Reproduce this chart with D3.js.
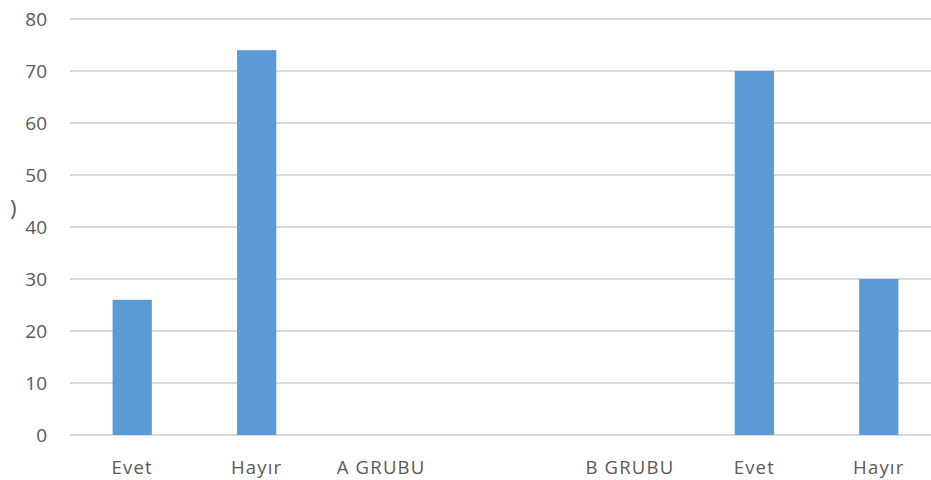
<!DOCTYPE html>
<html>
<head>
<meta charset="utf-8">
<script src="https://cdn.jsdelivr.net/npm/d3@7"></script>
<style>
  html, body { margin: 0; padding: 0; background: #fff; }
  svg { display: block; }
  text { font-family: "Open Sans", "DejaVu Sans", sans-serif; fill: #595959; }
</style>
</head>
<body>
<svg id="chart" width="931" height="480"></svg>
<script>
// Category labels along the x axis (one empty slot between the two groups)
const categories = ["Evet", "Hayır", "A GRUBU", "", "B GRUBU", "Evet", "Hayır"];
// Percentages per category; group header slots carry no bar
const values = [26, 74, null, null, null, 70, 30];
// Y axis ticks
const yTicks = [0, 10, 20, 30, 40, 50, 60, 70, 80];

const svg = d3.select("#chart");
const W = 931, H = 480;
const margin = { left: 70, top: 19, bottom: 45 };
const plotRight = 941; // last band runs past the visible edge

const x = d3.scaleBand()
  .domain(d3.range(categories.length))
  .range([margin.left, plotRight])
  .padding(0);

const y = d3.scaleLinear()
  .domain([0, 80])
  .range([H - margin.bottom, margin.top]);

const barW = x.step() * 0.315;

// Gridlines
svg.append("g")
  .selectAll("line")
  .data(yTicks)
  .join("line")
  .attr("x1", margin.left)
  .attr("x2", plotRight)
  .attr("y1", d => y(d))
  .attr("y2", d => y(d))
  .attr("stroke", "#d9d9d9")
  .attr("stroke-width", 2);

// Y tick labels
svg.append("g")
  .selectAll("text")
  .data(yTicks)
  .join("text")
  .attr("x", 47)
  .attr("y", d => y(d))
  .attr("dy", "0.36em")
  .attr("text-anchor", "end")
  .attr("font-size", 19)
  .text(d => d);

// Bars
svg.append("g")
  .selectAll("rect")
  .data(values.map((v, i) => ({ i, v })).filter(d => d.v != null))
  .join("rect")
  .attr("x", d => x(d.i) + x.bandwidth() / 2 - barW / 2)
  .attr("width", barW)
  .attr("y", d => y(d.v))
  .attr("height", d => y(0) - y(d.v))
  .attr("fill", "#5b9bd5");

// X category labels
svg.append("g")
  .selectAll("text")
  .data(categories.map((c, i) => ({ c, i })))
  .join("text")
  .attr("x", d => x(d.i) + x.bandwidth() / 2)
  .attr("y", 474)
  .attr("text-anchor", "middle")
  .attr("font-size", 18.5)
  .attr("letter-spacing", 1.2)
  .text(d => d.c);

// Axis title, cut off at the left edge
svg.append("text")
  .attr("x", 10)
  .attr("y", 216)
  .attr("font-size", 22)
  .attr("fill", "#7f7f7f")
  .text(")");
</script>
</body>
</html>
